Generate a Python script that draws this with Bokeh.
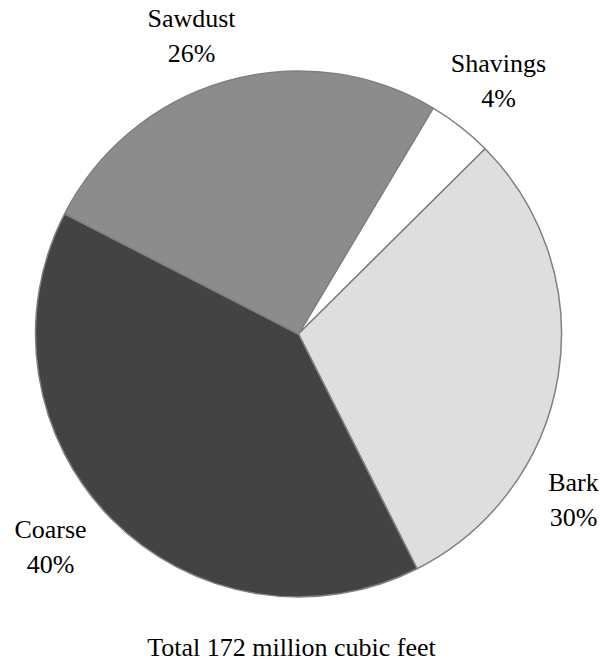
import math
from bokeh.plotting import figure
from bokeh.models import ColumnDataSource, Range1d
from bokeh.core.properties import value
from bokeh.embed import file_html
from bokeh.resources import INLINE

# ---- data ----
categories = ["Shavings", "Bark", "Coarse", "Sawdust"]
percents = [4, 30, 40, 26]
pct_labels = ["4%", "30%", "40%", "26%"]
title_text = "Total 172 million cubic feet"

# ---- styling / layout ----
colors = ["#ffffff", "#dedede", "#434343", "#8c8c8c"]
W, H = 608, 662
cx, cy, R = 298, 333.5, 263   # page pixels
start_deg = 59.2  # boundary between Sawdust and Shavings, slices run clockwise

# label positions in page pixels (center x, baseline y of the name line)
label_pos = {"Shavings": (498, 72), "Bark": (573, 491),
             "Coarse": (50, 538), "Sawdust": (191, 27)}
line_gap = 35
text_shift = 9   # renderer places alphabetic baseline lower than asked
FONT = value("serif")

total = sum(percents)
starts, ends = [], []
acc = 0.0
for v in percents:
    a0 = start_deg - acc / total * 360.0
    acc += v
    a1 = start_deg - acc / total * 360.0
    starts.append(math.radians(a0))
    ends.append(math.radians(a1))

def fig_xy(px, py):
    return px, H - py

fcx, fcy = fig_xy(cx, cy)
src = ColumnDataSource(dict(cat=categories, pct=percents, color=colors,
                            start=starts, end=ends,
                            x=[fcx] * len(categories), y=[fcy] * len(categories)))

p = figure(width=W, height=H, output_backend="svg", toolbar_location=None,
           x_range=Range1d(0, W), y_range=Range1d(0, H),
           x_axis_location=None, y_axis_location=None, min_border=0)
p.grid.visible = False
p.outline_line_color = None
p.background_fill_color = "white"
p.border_fill_color = "white"

p.wedge(x="x", y="y", radius=R, start_angle="start", end_angle="end",
        direction="clock", fill_color="color", line_color="#808080",
        line_width=1.5, source=src)

nx, ny, px_, py_ = [], [], [], []
for c in categories:
    x, y = fig_xy(label_pos[c][0], label_pos[c][1] - text_shift)
    nx.append(x); ny.append(y)
    px_.append(x); py_.append(y - line_gap)

lab = ColumnDataSource(dict(x=nx, y=ny, x2=px_, y2=py_, name=categories, pl=pct_labels))
common = dict(text_font=FONT, text_font_size="26px",
              text_color="#000000", text_align="center", text_baseline="alphabetic")
p.text(x="x", y="y", text="name", source=lab, **common)
p.text(x="x2", y="y2", text="pl", source=lab, **common)

tx, ty = fig_xy(291, 656 - text_shift)
p.text(x=[tx], y=[ty], text=[title_text], **common)

open("out.html", "w").write(file_html(p, INLINE))
